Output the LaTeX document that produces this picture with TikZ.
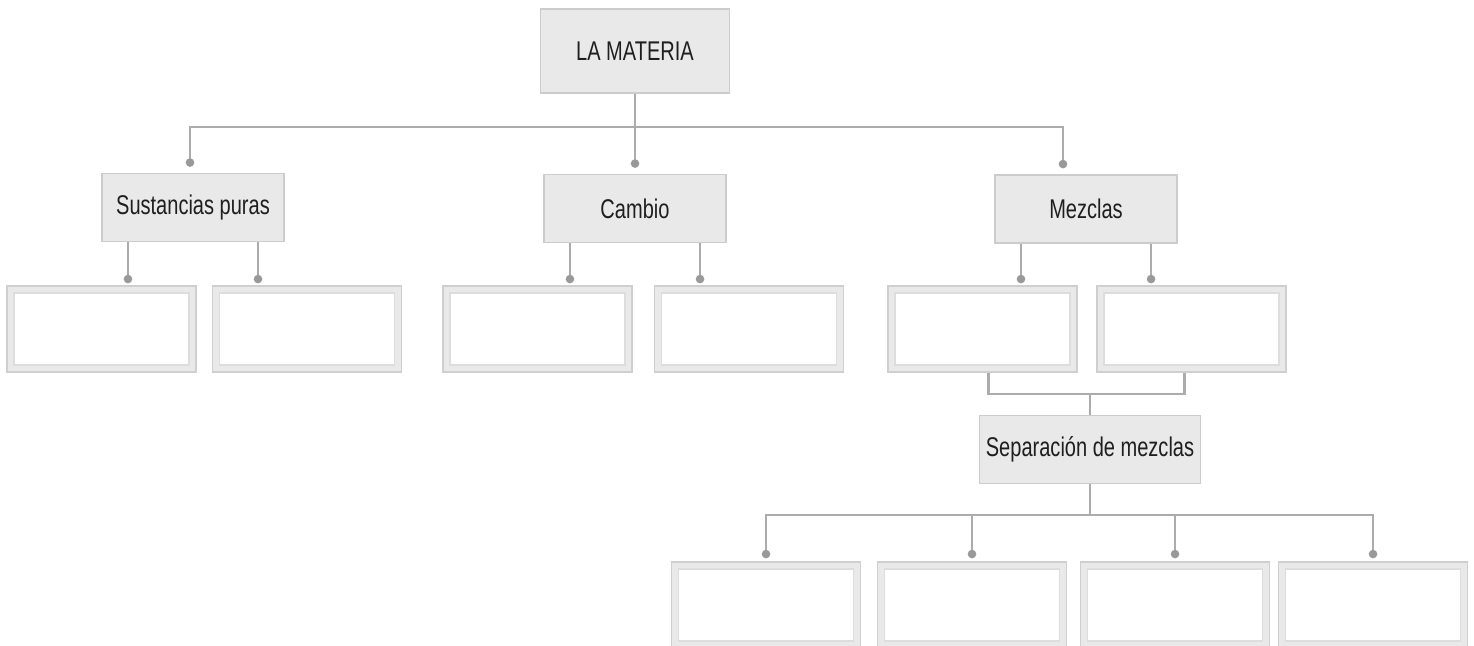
\documentclass[tikz,border=0pt]{standalone}
\usepackage{fontspec}
\setmainfont{Liberation Sans}[FakeStretch=0.74]
\usetikzlibrary{arrows.meta}

\begin{document}
\begin{tikzpicture}[
  x=0.01cm, y=-0.01cm,
  every node/.style={font=\fontsize{7.7}{9}\selectfont, text=black!88},
  topic/.style = {draw=gray!40, fill=gray!17, inner sep=0pt, minimum width=1.82cm, minimum height=0.68cm},
  slot/.style  = {draw=gray!38, fill=gray!17, inner sep=0pt, minimum width=1.89cm, minimum height=0.86cm,
                  path picture={\draw[gray!27, fill=white]
                    ([shift={(0.07cm,-0.07cm)}]path picture bounding box.north west) rectangle
                    ([shift={(-0.07cm,0.07cm)}]path picture bounding box.south east);}},
  link/.style  = {draw=gray!65, line width=0.6pt},
  dot/.style   = {link, -{Circle[length=2.4pt, color=gray!80]}, shorten >=0.02cm},
]
  \clip (0,0) rectangle (1474,645);

  \node[topic, minimum width=1.89cm, minimum height=0.84cm] (materia) at (635,51) {LA MATERIA};
  \node[topic] (sus)     at (193,207.5)  {Sustancias puras};
  \node[topic] (cambio)  at (635,208.5)  {Cambio};
  \node[topic] (mezclas) at (1086,209)   {Mezclas};
  \node[topic, minimum width=2.21cm] (sep) at (1090,449.5) {Separación de mezclas};

  \foreach \n/\x in {s1/101.5,s2/307,c1/537.5,c2/749,m1/982.5,m2/1191.5}
    \node[slot] (\n) at (\x,329) {};
  \foreach \n/\x in {t1/766,t2/972,t3/1175,t4/1373}
    \node[slot] (\n) at (\x,605) {};

  % top level
  \draw[dot, shorten >=0.06cm] (materia.south) -- ++(0,33) -| ([xshift=-0.03cm]sus.north);
  \draw[dot, shorten >=0.06cm] (materia.south) -- (cambio.north);
  \draw[dot, shorten >=0.06cm] (materia.south) -- ++(0,33) -| ([xshift=-0.23cm]mezclas.north);

  \foreach \p/\a/\b in {sus/s1/s2, cambio/c1/c2, mezclas/m1/m2} {
    \draw[dot] ([xshift=-0.65cm]\p.south) -- ([xshift=-0.65cm]\p.south |- \a.north);
    \draw[dot] ([xshift=0.65cm]\p.south) -- ([xshift=0.65cm]\p.south |- \b.north);
  }

  % mezclas -> separacion
  \draw[link] ([xshift=0.06cm]m1.south) -- ++(0,21) coordinate (mj) -| ([xshift=-0.07cm]m2.south);
  \draw[link] (mj -| sep.north) -- (sep.north);

  \foreach \t in {t1,t2,t3,t4}
    \draw[dot, shorten >=0.03cm] (sep.south) -- ++(0,31) -| (\t.north);
\end{tikzpicture}
\end{document}
